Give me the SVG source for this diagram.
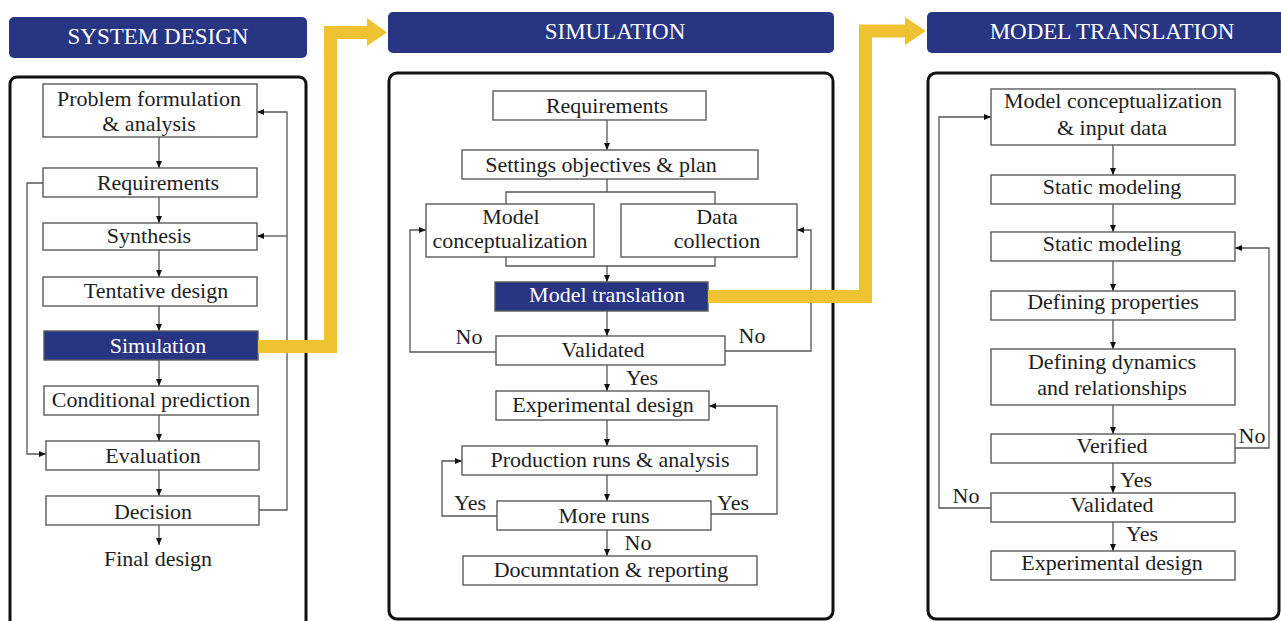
<svg xmlns="http://www.w3.org/2000/svg" width="1281" height="621" viewBox="0 0 1281 621">
<style>
.hdr{fill:#283583}
.hdrt{font-family:"Liberation Serif","DejaVu Serif",serif;font-size:23px;fill:#ffffff;text-anchor:middle}
.frame{fill:none;stroke:#111;stroke-width:3}
.box{fill:#fff;stroke:#5a5a5a;stroke-width:1.4}
.dbox{fill:#283583;stroke:#5a5a5a;stroke-width:1.4}
.t{font-family:"Liberation Serif","DejaVu Serif",serif;font-size:22px;fill:#1e1e1e;text-anchor:middle}
.tw{font-family:"Liberation Serif","DejaVu Serif",serif;font-size:22px;fill:#ffffff;text-anchor:middle}
.c{fill:none;stroke:#555;stroke-width:1.3}
.ca{fill:none;stroke:#555;stroke-width:1.3;marker-end:url(#ah)}
.y{fill:none;stroke:#efc232;stroke-width:13;stroke-linejoin:miter}
.yh{fill:#efc232}
</style>
<defs>
<marker id="ah" markerUnits="userSpaceOnUse" markerWidth="8" markerHeight="8" refX="7" refY="3" orient="auto">
<path d="M0,0 L7,3 L0,6 Z" fill="#111"/>
</marker>
</defs>

<!-- headers -->
<g id="hdr-system">
<rect class="hdr" x="9" y="17" width="298" height="41" rx="5"/>
<text class="hdrt" x="158" y="44">SYSTEM DESIGN</text>
</g>
<g id="hdr-simulation">
<rect class="hdr" x="388" y="12" width="446" height="41" rx="5"/>
<text class="hdrt" x="615" y="39">SIMULATION</text>
</g>
<g id="hdr-model">
<rect class="hdr" x="927" y="12" width="380" height="41" rx="5"/>
<text class="hdrt" x="1112" y="39">MODEL TRANSLATION</text>
</g>

<!-- frames -->
<g id="frames">
<rect class="frame" x="10" y="77" width="296" height="580" rx="7"/>
<rect class="frame" x="389" y="73" width="444" height="546" rx="8"/>
<rect class="frame" x="928" y="73" width="351" height="546" rx="8"/>
</g>

<!-- connectors -->
<g id="connectors">
<!-- left panel -->
<path class="ca" d="M159,137 V168"/>
<path class="ca" d="M159,197 V223"/>
<path class="ca" d="M159,250 V277"/>
<path class="ca" d="M159,306 V331"/>
<path class="ca" d="M159,360 V386"/>
<path class="ca" d="M159,415 V441"/>
<path class="ca" d="M159,470 V496"/>
<path class="ca" d="M159,525 V545"/>
<path class="ca" d="M43,183 H27 V454 H46"/>
<path class="ca" d="M259,510 H287 V112 H257"/>
<path class="ca" d="M287,236 H257"/>
<!-- middle panel -->
<path class="ca" d="M607,120 V150"/>
<path class="c" d="M607,179 V192 M506,204 V192 H715 V204"/>
<path class="c" d="M506,257 V266 H715 V257"/>
<path class="ca" d="M607,266 V282"/>
<path class="ca" d="M607,311 V336"/>
<path class="ca" d="M607,365 V391"/>
<path class="ca" d="M607,420 V446"/>
<path class="ca" d="M607,475 V501"/>
<path class="ca" d="M607,530 V556"/>
<path class="ca" d="M496,352 H410 V230 H426"/>
<path class="ca" d="M725,351 H811 V230 H797"/>
<path class="ca" d="M711,514 H777 V406 H709"/>
<path class="ca" d="M497,516 H442 V461 H462"/>
<!-- right panel -->
<path class="ca" d="M1113,145 V175"/>
<path class="ca" d="M1113,204 V232"/>
<path class="ca" d="M1113,261 V291"/>
<path class="ca" d="M1113,320 V349"/>
<path class="ca" d="M1113,405 V434"/>
<path class="ca" d="M1113,463 V493"/>
<path class="ca" d="M1113,522 V551"/>
<path class="ca" d="M1235,448 H1269 V248 H1235"/>
<path class="ca" d="M991,508 H939 V117 H991"/>
</g>

<!-- edge labels -->
<g id="labels">
<text class="t" x="469" y="344">No</text>
<text class="t" x="752" y="343">No</text>
<text class="t" x="642" y="385">Yes</text>
<text class="t" x="470" y="510">Yes</text>
<text class="t" x="733" y="510">Yes</text>
<text class="t" x="638" y="550">No</text>
<text class="t" x="1252" y="443">No</text>
<text class="t" x="1136" y="487">Yes</text>
<text class="t" x="966" y="503">No</text>
<text class="t" x="1142" y="541">Yes</text>
</g>

<!-- left panel nodes -->
<g id="sd-problem"><rect class="box" x="43" y="84" width="214" height="53"/><text class="t" x="149" y="106">Problem formulation</text><text class="t" x="149" y="131">&amp; analysis</text></g>
<g id="sd-requirements"><rect class="box" x="43" y="168" width="214" height="29"/><text class="t" x="158" y="190">Requirements</text></g>
<g id="sd-synthesis"><rect class="box" x="43" y="223" width="214" height="27"/><text class="t" x="149" y="243">Synthesis</text></g>
<g id="sd-tentative"><rect class="box" x="43" y="277" width="214" height="29"/><text class="t" x="156" y="298">Tentative design</text></g>
<g id="sd-simulation"><rect class="dbox" x="44" y="331" width="214" height="29"/><text class="tw" x="158" y="353">Simulation</text></g>
<g id="sd-conditional"><rect class="box" x="44" y="386" width="214" height="29"/><text class="t" x="151" y="407">Conditional prediction</text></g>
<g id="sd-evaluation"><rect class="box" x="46" y="441" width="213" height="29"/><text class="t" x="153" y="463">Evaluation</text></g>
<g id="sd-decision"><rect class="box" x="46" y="496" width="213" height="29"/><text class="t" x="153" y="519">Decision</text></g>
<g id="sd-final"><text class="t" x="158" y="566">Final design</text></g>

<!-- middle panel nodes -->
<g id="sim-requirements"><rect class="box" x="493" y="91" width="213" height="29"/><text class="t" x="607" y="113">Requirements</text></g>
<g id="sim-settings"><rect class="box" x="462" y="150" width="296" height="29"/><text class="t" x="601" y="172">Settings objectives &amp; plan</text></g>
<g id="sim-modelconc"><rect class="box" x="426" y="204" width="168" height="53"/><text class="t" x="511" y="224">Model</text><text class="t" x="510" y="248">conceptualization</text></g>
<g id="sim-data"><rect class="box" x="621" y="204" width="176" height="53"/><text class="t" x="717" y="224">Data</text><text class="t" x="717" y="248">collection</text></g>
<g id="sim-translation"><rect class="dbox" x="495" y="282" width="213" height="29"/><text class="tw" x="607" y="302">Model translation</text></g>
<g id="sim-validated"><rect class="box" x="496" y="336" width="229" height="29"/><text class="t" x="603" y="357">Validated</text></g>
<g id="sim-experimental"><rect class="box" x="496" y="391" width="213" height="29"/><text class="t" x="603" y="412">Experimental design</text></g>
<g id="sim-production"><rect class="box" x="462" y="446" width="295" height="29"/><text class="t" x="610" y="467">Production runs &amp; analysis</text></g>
<g id="sim-moreruns"><rect class="box" x="497" y="501" width="214" height="29"/><text class="t" x="604" y="523">More runs</text></g>
<g id="sim-doc"><rect class="box" x="463" y="556" width="294" height="29"/><text class="t" x="611" y="577">Documntation &amp; reporting</text></g>

<!-- right panel nodes -->
<g id="mt-conc"><rect class="box" x="991" y="89" width="244" height="56"/><text class="t" x="1113" y="108">Model conceptualization</text><text class="t" x="1112" y="135">&amp; input data</text></g>
<g id="mt-static1"><rect class="box" x="991" y="175" width="244" height="29"/><text class="t" x="1112" y="194">Static modeling</text></g>
<g id="mt-static2"><rect class="box" x="991" y="232" width="244" height="29"/><text class="t" x="1112" y="251">Static modeling</text></g>
<g id="mt-props"><rect class="box" x="991" y="291" width="244" height="29"/><text class="t" x="1113" y="309">Defining properties</text></g>
<g id="mt-dyn"><rect class="box" x="991" y="349" width="244" height="56"/><text class="t" x="1112" y="369">Defining dynamics</text><text class="t" x="1112" y="395">and relationships</text></g>
<g id="mt-verified"><rect class="box" x="991" y="434" width="244" height="29"/><text class="t" x="1112" y="453">Verified</text></g>
<g id="mt-validated"><rect class="box" x="991" y="493" width="244" height="29"/><text class="t" x="1112" y="512">Validated</text></g>
<g id="mt-experimental"><rect class="box" x="991" y="551" width="244" height="29"/><text class="t" x="1112" y="570">Experimental design</text></g>

<!-- yellow transition arrows -->
<g id="yellow-arrows">
<path class="y" d="M258,346.5 H330.5 V32.5 H368"/>
<polygon class="yh" points="367,18 387,32.5 367,46"/>
<path class="y" d="M708,296.5 H865.5 V31 H906"/>
<polygon class="yh" points="905,17 926,31 905,45"/>
</g>
</svg>
